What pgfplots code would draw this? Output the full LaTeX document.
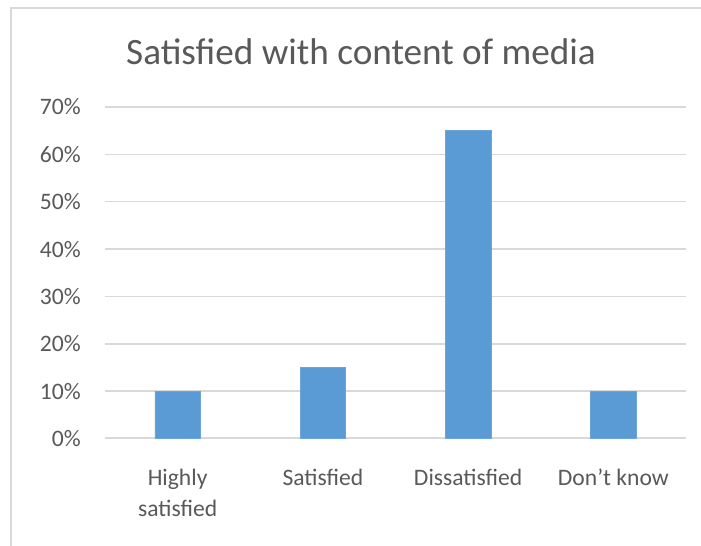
\documentclass[border=0pt]{standalone}
\usepackage{pgfplots}
\pgfplotsset{compat=1.18}
\usepackage{fontspec}
\setmainfont{Carlito}
\definecolor{barblue}{HTML}{5B9BD5}
\definecolor{gridgray}{HTML}{D9D9D9}
\definecolor{txtgray}{HTML}{595959}
\begin{document}
\begin{tikzpicture}[x=0.75pt,y=0.75pt]
\useasboundingbox (0,0) rectangle (701,546);
\fill[white] (0,0) rectangle (701,546);
\draw[gridgray, line width=1.5pt] (11,0) -- (11,537.5) -- (701,537.5);
\node[anchor=base, text=txtgray, font=\fontsize{27.9}{33}\selectfont, inner sep=0pt] at (361,481) {Satisfied with content of media};
\begin{axis}[
  at={(78.75pt,80.625pt)}, anchor=south west,
  scale only axis, width=435.75pt, height=248.6pt,
  xmin=-0.5, xmax=3.5, ymin=0, ymax=70,
  xtick={0,1,2,3},
  xticklabels={{Highly\\satisfied},{Satisfied},{Dissatisfied},{Don’t know}},
  ytick={0,10,...,70},
  yticklabel={\pgfmathprintnumber{\tick}\%},
  /pgf/number format/assume math mode=true,
  major tick length=0pt,
  axis x line*=bottom, axis y line*=left,
  x axis line style={draw=gridgray, line width=1.5pt},
  y axis line style={draw=none},
  ymajorgrids, grid style={draw=gridgray, line width=1.1pt},
  ticklabel style={text=txtgray, font=\fontsize{17.7}{23}\selectfont},
  xticklabel style={align=center, anchor=north, inner sep=0pt, yshift=-22.8pt},
  yticklabel style={anchor=east, inner sep=0pt, xshift=-18pt},
  ybar, bar width=34.1pt,
  clip=false,
]
\addplot[fill=barblue, draw=barblue!90!white, line width=0.5pt] coordinates {(0,10) (1,15) (2,65) (3,10)};
\end{axis}
\end{tikzpicture}
\end{document}
